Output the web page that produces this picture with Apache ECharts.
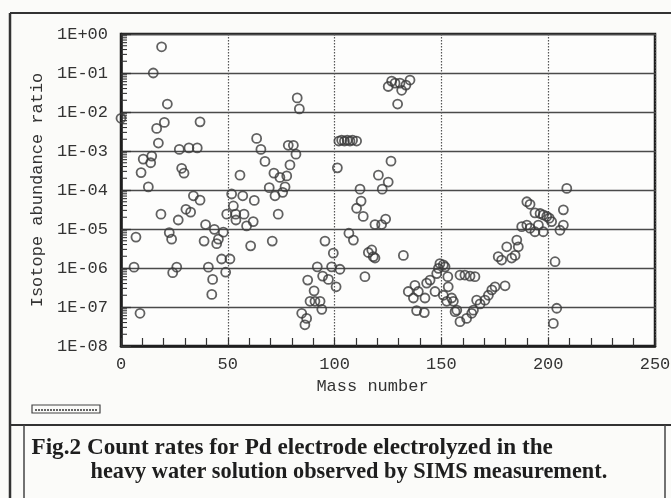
<!DOCTYPE html>
<html>
<head>
<meta charset="utf-8">
<script src="https://cdn.jsdelivr.net/npm/echarts@6/dist/echarts.min.js"></script>
<style>
html,body{margin:0;padding:0;background:#fbfbf9;}
#chart{width:671px;height:498px;}
</style>
</head>
<body>
<div id="chart"></div>
<script>
// Mass numbers (x) and isotope abundance ratios (y)
const massNumbers = [
  0, 6.1, 7, 8.9, 9.4, 10.4, 12.8, 13.9, 14.4, 15.1, 16.7, 17.5, 18.7, 19.0, 20.3, 21.7,
  22.6, 23.7, 24.2, 26.1, 26.8, 27.3, 28.4, 29.5, 30.4, 31.8, 32.6, 33.9, 35.7, 37.0, 37.0,
  38.9, 39.6, 40.9, 42.5, 42.9, 43.7, 44.8, 45.6, 47.1, 47.9, 49.0, 51.0,
  82.5, 83.5, 63.5, 65.5, 67.4, 78.3, 80.7, 81.9, 79.1, 55.7, 71.6, 74.4, 77.6, 69.4, 72.1,
  75.7, 76.8, 51.8, 57.0, 62.4, 52.6, 49.5, 53.7, 57.6, 53.8, 61.9, 58.8, 73.6, 60.7, 70.8,
  95.5, 99.4, 91.9, 98.6, 87.4, 90.4, 94.4, 97.1, 100.7, 88.5, 90.8, 93.2, 94.0, 84.6, 86.9,
  86.1, 101.3, 102.5,
  125.1, 126.7, 128.3, 130.6, 131.4, 133.4, 135.3, 129.5,
  102.0, 103.3, 104.6, 105.9, 107.2, 108.4, 110.3,
  126.4, 120.5, 125.1, 122.3, 111.9, 112.4, 110.3, 113.4, 118.9, 122.0, 123.9, 106.7, 108.8,
  115.8, 117.4, 118.1, 118.9, 132.2, 114.2, 149.3, 150.9, 148.6, 147.8, 144.7, 143.1, 147.0,
  153.0, 153.2, 137.6, 134.5, 136.9, 139.2, 142.3, 138.4, 142.0, 150.9, 152.5,
  151.7, 158.7, 161.0, 163.4, 165.7, 154.8, 155.6, 157.2, 156.4, 158.7, 161.8, 164.2, 165.0,
  166.5, 168.1, 170.4, 172.0, 173.6, 175.1, 179.8, 176.6, 178.2, 180.6, 182.9, 184.5, 185.3,
  186.0, 187.6, 190.0, 191.5, 193.8, 195.4, 197.7, 190.0, 191.5, 193.8, 196.2, 197.7, 199.3,
  201.6, 203.2, 204.0, 202.4, 208.7, 207.1, 205.5, 207.1, 200.5
];
const abundanceRatios = [
  6.9e-3, 1.05e-6, 6.2e-6, 6.9e-8, 2.8e-4, 6.2e-4, 1.2e-4, 5.0e-4, 7.4e-4, 1.0e-1, 3.8e-3, 1.6e-3, 2.4e-5, 0.47, 5.4e-3, 1.6e-2,
  8.1e-6, 5.5e-6, 7.6e-7, 1.05e-6, 1.7e-5, 1.1e-3, 3.6e-4, 2.7e-4, 3.2e-5, 1.2e-3, 2.7e-5, 7.1e-5, 1.2e-3, 5.6e-3, 5.5e-5,
  4.9e-6, 1.3e-5, 1.05e-6, 2.1e-7, 5.1e-7, 9.8e-6, 4.2e-6, 5.5e-6, 1.7e-6, 8.3e-6, 7.8e-7, 1.7e-6,
  2.3e-2, 1.2e-2, 2.1e-3, 1.1e-3, 5.4e-4, 1.4e-3, 1.4e-3, 8.3e-4, 4.4e-4, 2.4e-4, 2.7e-4, 2.1e-4, 2.3e-4, 1.15e-4, 7.1e-5,
  8.7e-5, 1.2e-4, 7.9e-5, 7.1e-5, 5.4e-5, 3.9e-5, 2.4e-5, 2.4e-5, 2.4e-5, 1.7e-5, 1.55e-5, 1.2e-5, 2.4e-5, 3.7e-6, 4.9e-6,
  4.9e-6, 2.4e-6, 1.07e-6, 1.07e-6, 4.9e-7, 2.6e-7, 6.2e-7, 5.1e-7, 3.3e-7, 1.4e-7, 1.4e-7, 1.4e-7, 8.7e-8, 6.9e-8, 5.1e-8,
  3.5e-8, 3.7e-4, 9.3e-7,
  4.5e-2, 6.2e-2, 5.5e-2, 5.5e-2, 3.6e-2, 4.9e-2, 6.6e-2, 1.6e-2,
  1.8e-3, 1.9e-3, 1.8e-3, 1.9e-3, 1.8e-3, 1.9e-3, 1.8e-3,
  5.5e-4, 2.4e-4, 1.6e-4, 1.05e-4, 1.05e-4, 5.2e-5, 3.4e-5, 2.1e-5, 1.3e-5, 1.3e-5, 1.8e-5, 7.8e-6, 5.2e-6,
  2.5e-6, 2.9e-6, 1.95e-6, 1.8e-6, 2.1e-6, 6.0e-7, 1.3e-6, 1.2e-6, 9.8e-7, 7.2e-7, 4.9e-7, 4.1e-7, 2.5e-7,
  6.0e-7, 3.3e-7, 3.6e-7, 2.5e-7, 1.7e-7, 2.5e-7, 1.7e-7, 8.1e-8, 7.2e-8, 2.0e-7, 1.4e-7,
  1.07e-6, 6.6e-7, 6.6e-7, 6.2e-7, 6.0e-7, 1.7e-7, 1.4e-7, 8.3e-8, 7.6e-8, 4.2e-8, 5.1e-8, 6.9e-8, 8.3e-8,
  1.5e-7, 1.2e-7, 1.5e-7, 2.0e-7, 2.75e-7, 3.3e-7, 3.5e-7, 1.95e-6, 1.6e-6, 3.5e-6, 1.8e-6, 2.1e-6, 5.2e-6,
  3.5e-6, 1.15e-5, 1.26e-5, 1.05e-5, 8.5e-6, 1.26e-5, 8.5e-6, 5.0e-5, 4.3e-5, 2.6e-5, 2.5e-5, 2.3e-5, 2.1e-5,
  1.55e-5, 1.45e-6, 9.3e-8, 3.8e-8, 1.1e-4, 3.1e-5, 9.3e-6, 1.26e-5, 1.9e-5
];
const xTickLabels = {0:'0', 50:'50', 100:'100', 150:'150', 200:'200', 250:'250'};
const yTickLabels = {'-8':'1E-08','-7':'1E-07','-6':'1E-06','-5':'1E-05','-4':'1E-04','-3':'1E-03','-2':'1E-02','-1':'1E-01','0':'1E+00'};
const captionLines = [
  'Fig.2 Count rates for Pd electrode electrolyzed in the',
  'heavy water solution observed by SIMS measurement.'
];

// log minor tick positions (2..9 x 10^k)
const yMinorTicks = [];
for (let k = -8; k < 0; k++) for (let m = 2; m <= 9; m++) yMinorTicks.push(m * Math.pow(10, k));

const points = massNumbers.map((x, i) => [x, abundanceRatios[i]]);

// caption font sizes fitted to measured line widths
const cv = document.createElement('canvas').getContext('2d');
cv.font = 'bold 20px "Liberation Serif"';
function fitSize(text, w) {
  const s = 20 * w / cv.measureText(text).width;
  return Math.max(16, Math.min(24, s));
}
const capSize1 = fitSize(captionLines[0], 521);
const capSize2 = fitSize(captionLines[1], 516);

const monoFont = '"Liberation Mono", "DejaVu Sans Mono", monospace';

const chart = echarts.init(document.getElementById('chart'), null, {renderer: 'canvas'});
chart.setOption({
  backgroundColor: '#fbfbf9',
  animation: false,
  grid: {left: 121, top: 34, right: 16, bottom: 152, show: true, borderColor: '#1e1e1e', borderWidth: 2.5, backgroundColor: '#fdfdfc', containLabel: false, outerBoundsMode: 'none'},
  xAxis: {
    type: 'value', min: 0, max: 250, interval: 50,
    name: 'Mass number', nameLocation: 'middle', nameGap: 32,
    nameTextStyle: {fontFamily: monoFont, fontSize: 17, color: '#333', padding: [0, 31, 0, 0]},
    axisLine: {show: true, lineStyle: {color: '#1e1e1e', width: 2.5}},
    axisTick: {show: true, inside: true, length: 8, lineStyle: {color: '#333', width: 1.2}},
    minorTick: {show: true, splitNumber: 5, length: 8, lineStyle: {color: '#333', width: 1.2}},
    axisLabel: {fontFamily: monoFont, fontSize: 17, color: '#333', margin: 10, formatter: v => xTickLabels[v] !== undefined ? xTickLabels[v] : ''},
    splitLine: {show: true, lineStyle: {color: '#555', width: 1.2, type: [1.5, 1.5]}},
    minorSplitLine: {show: false}
  },
  yAxis: {
    type: 'log', logBase: 10, min: 1e-8, max: 1,
    name: 'Isotope abundance ratio', nameLocation: 'middle', nameGap: 67, nameRotate: 90,
    nameTextStyle: {fontFamily: monoFont, fontSize: 17, color: '#333'},
    axisLine: {show: true, lineStyle: {color: '#1e1e1e', width: 2.5}},
    axisTick: {show: true, inside: true, length: 10, lineStyle: {color: '#333', width: 1.3}},
    minorTick: {show: false},
    axisLabel: {fontFamily: monoFont, fontSize: 17, color: '#333', margin: 13,
      formatter: v => { const e = Math.round(Math.log10(v)); return yTickLabels[String(e)] || ''; }},
    splitLine: {show: true, lineStyle: {color: '#4a4a4a', width: 1.3}}
  },
  series: [
    {
      type: 'custom', silent: true, clip: false, z: 3,
      data: yMinorTicks.map(v => [0, v]),
      renderItem: function (params, api) {
        const p = api.coord([api.value(0), api.value(1)]);
        return {type: 'line', shape: {x1: p[0], y1: p[1], x2: p[0] + 6, y2: p[1]}, style: {stroke: '#333', lineWidth: 1.1}};
      }
    },
    {
      type: 'scatter', data: points, symbol: 'circle', symbolSize: 9, z: 4,
      itemStyle: {color: 'rgba(0,0,0,0)', borderColor: '#3a3a3a', borderWidth: 1.8}
    }
  ],
  graphic: [
    {type: 'line', shape: {x1: 10, y1: 13, x2: 671, y2: 13}, style: {stroke: '#333', lineWidth: 2}},
    {type: 'line', shape: {x1: 10, y1: 13, x2: 10, y2: 498}, style: {stroke: '#333', lineWidth: 2.5}},
    {type: 'line', shape: {x1: 10, y1: 425, x2: 671, y2: 425}, style: {stroke: '#333', lineWidth: 2}},
    {type: 'line', shape: {x1: 24, y1: 425, x2: 24, y2: 498}, style: {stroke: '#444', lineWidth: 1.5}},
    {type: 'line', shape: {x1: 665, y1: 425, x2: 665, y2: 498}, style: {stroke: '#444', lineWidth: 1.5}},
    {type: 'rect', shape: {x: 32, y: 405, width: 68, height: 8}, style: {stroke: '#444', fill: 'none', lineWidth: 1.2}},
    {type: 'line', shape: {x1: 35, y1: 410, x2: 97, y2: 410}, style: {stroke: '#666', lineWidth: 2, lineDash: [2, 1]}},
    {type: 'text', style: {text: captionLines[0], x: 31.5, y: 448, font: 'bold ' + capSize1.toFixed(1) + 'px "Liberation Serif"', fill: '#1e1e1e', verticalAlign: 'middle', align: 'left'}},
    {type: 'text', style: {text: captionLines[1], x: 90.5, y: 472, font: 'bold ' + capSize2.toFixed(1) + 'px "Liberation Serif"', fill: '#1e1e1e', verticalAlign: 'middle', align: 'left'}}
  ]
});
</script>
</body>
</html>
